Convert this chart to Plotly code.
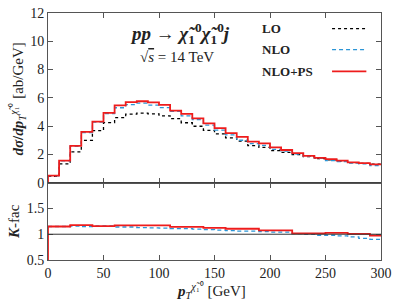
import plotly.graph_objects as go

# bin edges (GeV), 10 GeV bins from 0 to 300
bin_lo = list(range(0, 300, 10))
bin_hi_last = 300

lo = [0.44, 1.33, 2.18, 2.99, 3.68, 4.25, 4.60, 4.85, 4.92, 4.87,
      4.73, 4.53, 4.24, 3.99, 3.70, 3.45, 3.17, 2.94, 2.62, 2.50,
      2.27, 2.15, 1.99, 1.84, 1.70, 1.61, 1.51, 1.42, 1.37, 1.31]
nlo = [0.49, 1.54, 2.57, 3.54, 4.28, 4.88, 5.30, 5.52, 5.63, 5.49,
       5.31, 5.05, 4.72, 4.46, 4.07, 3.72, 3.38, 3.00, 2.76, 2.64,
       2.36, 2.23, 2.02, 1.86, 1.72, 1.57, 1.49, 1.38, 1.33, 1.20]
nlops = [0.50, 1.56, 2.60, 3.59, 4.32, 4.94, 5.47, 5.70, 5.76, 5.68,
         5.50, 5.10, 4.86, 4.55, 4.20, 3.86, 3.50, 3.24, 2.90, 2.78,
         2.50, 2.31, 2.09, 1.90, 1.75, 1.67, 1.56, 1.44, 1.38, 1.29]

k_nlo = [1.15, 1.15, 1.16, 1.15, 1.16, 1.16, 1.14, 1.14, 1.13, 1.125,
         1.12, 1.11, 1.11, 1.10, 1.09, 1.08, 1.07, 1.06, 1.06, 1.05,
         1.04, 1.04, 1.01, 1.00, 0.98, 0.98, 0.97, 0.95, 0.92, 0.90]
k_nlops = [1.15, 1.15, 1.175, 1.175, 1.157, 1.157, 1.17, 1.17, 1.17, 1.17,
           1.17, 1.143, 1.143, 1.143, 1.125, 1.125, 1.106, 1.106, 1.106, 1.075,
           1.075, 1.075, 1.018, 1.018, 1.018, 1.025, 1.025, 1.006, 1.006, 0.975]

x_ticks = [0, 50, 100, 150, 200, 250, 300]
y_ticks_top = [0, 2, 4, 6, 8, 10, 12]
y_ticks_bot = [0.5, 1, 1.5]

RED = "#ee1c1c"
BLUE = "#2b95d6"
FRAME = "#555555"
FONT = "Liberation Serif"


def steps(vals, start_zero=False):
    xs = list(bin_lo) + [bin_hi_last]
    ys = list(vals) + [vals[-1]]
    if start_zero:
        xs = [bin_lo[0]] + xs
        ys = [0] + ys
    return xs, ys


fig = go.Figure()

x, y = steps(lo)
fig.add_trace(go.Scatter(x=x, y=y, mode="lines", line=dict(shape="hv", color="black", width=1.3, dash="dot"),
                         xaxis="x", yaxis="y", showlegend=False))
x, y = steps(nlo)
fig.add_trace(go.Scatter(x=x, y=y, mode="lines", line=dict(shape="hv", color=BLUE, width=1.3, dash="4px,3px"),
                         xaxis="x", yaxis="y", showlegend=False))
x, y = steps(nlops, True)
fig.add_trace(go.Scatter(x=x, y=y, mode="lines", line=dict(shape="hv", color=RED, width=1.8),
                         xaxis="x", yaxis="y", showlegend=False))

x, y = steps(k_nlo)
fig.add_trace(go.Scatter(x=x, y=y, mode="lines", line=dict(shape="hv", color=BLUE, width=1.3, dash="4px,3px"),
                         xaxis="x2", yaxis="y2", showlegend=False))
x, y = steps(k_nlops, True)
fig.add_trace(go.Scatter(x=x, y=y, mode="lines", line=dict(shape="hv", color=RED, width=1.8),
                         xaxis="x2", yaxis="y2", showlegend=False))

axis_common = dict(showline=True, linecolor=FRAME, linewidth=1, mirror="ticks", ticks="inside",
                   ticklen=5, tickcolor=FRAME, showgrid=False, zeroline=False,
                   ticklabeloverflow="allow",
                   tickfont=dict(family=FONT, size=14, color="#222"))

top_dom = [0.313, 1.0]
bot_dom = [0.0, 0.313]

fig.update_layout(
    width=398, height=302,
    margin=dict(l=48, r=10, t=6, b=42),
    paper_bgcolor="white", plot_bgcolor="white",
    xaxis=dict(domain=[0, 1], range=[0, 300], tickvals=x_ticks, showticklabels=False,
               anchor="y", **axis_common),
    yaxis=dict(domain=top_dom, range=[0, 12], tickvals=y_ticks_top, anchor="x", **axis_common),
    xaxis2=dict(domain=[0, 1], range=[0, 300], tickvals=x_ticks, anchor="y2", **axis_common),
    yaxis2=dict(domain=bot_dom, range=[0.5, 2.0], tickvals=y_ticks_bot, anchor="x2", **axis_common),
)

# reference lines
fig.add_shape(type="line", xref="x2", yref="y2", x0=0, x1=300, y0=1, y1=1,
              line=dict(color="#333", width=1))
fig.add_shape(type="line", xref="x", yref="y", x0=0, x1=300, y0=0, y1=0,
              line=dict(color="#333", width=1))

# legend (manual)
leg = [("LO", 0.937, dict(color="black", width=1.3, dash="dot")),
       ("NLO", 0.852, dict(color=BLUE, width=1.3, dash="4px,3px")),
       ("NLO+PS", 0.764, dict(color=RED, width=1.8))]
for label, yy, ln in leg:
    fig.add_annotation(xref="paper", yref="paper", x=0.638, y=yy, text="<b>" + label + "</b>",
                       showarrow=False, xanchor="left", yanchor="middle",
                       font=dict(family=FONT, size=13, color="#222"))
    fig.add_shape(type="line", xref="paper", yref="paper", x0=0.853, x1=0.956, y0=yy, y1=yy, line=ln)

fig.add_annotation(xref="paper", yref="paper", x=0.397, y=0.915,
                   text="<b><i>pp</i> → <i>χ̃</i><sub>1</sub><sup>0</sup><i>χ̃</i><sub>1</sub><sup>0</sup><i>j</i></b>",
                   showarrow=False, xanchor="center", yanchor="middle",
                   font=dict(family=FONT, size=19, color="#222"))
fig.add_annotation(xref="paper", yref="paper", x=0.388, y=0.822,
                   text="√<span style='text-decoration:overline'><i>s</i></span> = 14 TeV",
                   showarrow=False, xanchor="center", yanchor="middle",
                   font=dict(family=FONT, size=15, color="#222"))

fig.add_annotation(xref="paper", yref="paper", x=-0.09, y=0.65,
                   text="<b><i>dσ</i>/<i>dp</i></b><sub><i>T</i></sub><sup><i>χ̃</i>₁⁰</sup> [ab/GeV]",
                   textangle=-90, showarrow=False, xanchor="center", yanchor="middle",
                   font=dict(family=FONT, size=15, color="#222"))
fig.add_annotation(xref="paper", yref="paper", x=-0.1, y=0.157,
                   text="<b><i>K</i></b>-fac",
                   textangle=-90, showarrow=False, xanchor="center", yanchor="middle",
                   font=dict(family=FONT, size=15, color="#222"))
fig.add_annotation(xref="paper", yref="paper", x=0.49, y=-0.125,
                   text="<b><i>p</i></b><sub><i>T</i></sub><sup><i>χ̃</i>₁⁰</sup> [GeV]",
                   showarrow=False, xanchor="center", yanchor="middle",
                   font=dict(family=FONT, size=15, color="#222"))

fig.write_html("out.html", config={"displayModeBar": False},
               post_script="document.body.style.margin='0';")
